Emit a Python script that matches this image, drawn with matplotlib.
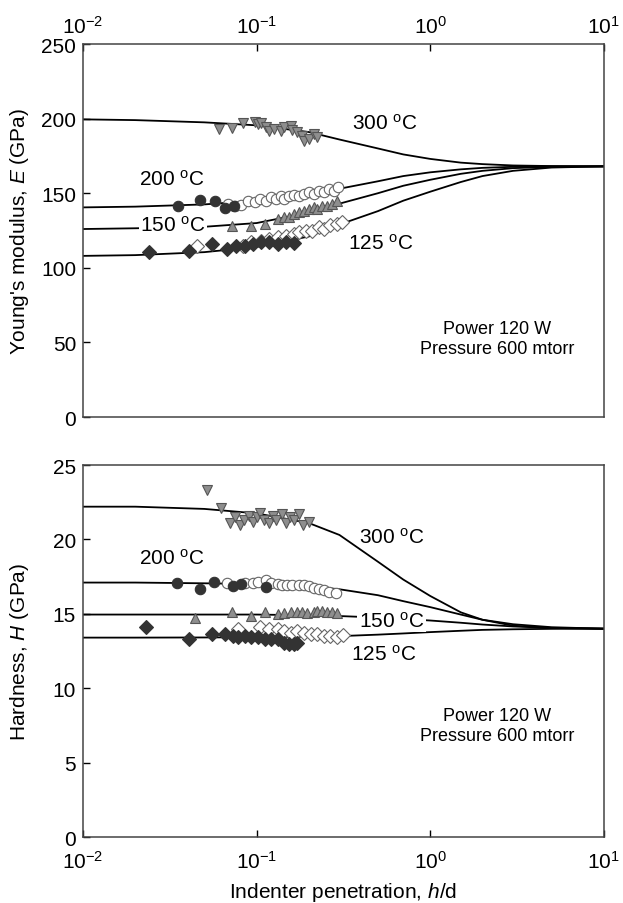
import matplotlib
matplotlib.use("Agg")
import matplotlib.pyplot as plt
import numpy as np

plt.rcParams["font.family"] = ["Liberation Sans", "DejaVu Sans"]
plt.rcParams["mathtext.fontset"] = "custom"
plt.rcParams["mathtext.rm"] = "Liberation Sans"
plt.rcParams["mathtext.it"] = "Liberation Sans:italic"

# ---- Young's modulus (top) ----
# fitted curves
x_fit = [0.01, 0.02, 0.05, 0.1, 0.2, 0.3, 0.5, 0.7, 1, 1.5, 2, 3, 5, 10]
E_fit_300 = [199.5, 199, 197.5, 195.5, 191, 186, 180, 176, 173, 170.5, 169.5, 168.6, 168.2, 168]
E_fit_200 = [140.5, 141, 142.5, 145, 149.5, 153, 158, 161.5, 164, 166, 167, 167.7, 168, 168]
E_fit_150 = [126, 126.5, 127.5, 130, 137, 143, 150, 155, 159, 163, 165, 166.8, 167.7, 168]
E_fit_125 = [108, 108.5, 110.5, 114, 121, 129, 138, 145, 151, 157.5, 161.5, 165, 167.2, 168]

E300_x = [0.0608, 0.0717, 0.0836, 0.0974, 0.1017, 0.1062, 0.1134, 0.1186, 0.1266, 0.138,
          0.1443, 0.1574, 0.161, 0.1718, 0.1834, 0.1876, 0.2003, 0.2138, 0.2233]
E300_y = [193.0, 193.5, 197.1, 197.9, 196.4, 197.0, 194.1, 191.9, 193.0, 191.9,
          194.1, 195.2, 192.5, 190.7, 188.5, 185.2, 186.3, 189.7, 187.7]

E200f_x = [0.0354, 0.0474, 0.0577, 0.066, 0.0738]
E200f_y = [141.1, 145.3, 144.9, 140.0, 141.3]
E200o_x = [0.0687, 0.075, 0.0817, 0.0892, 0.0974, 0.104, 0.1134, 0.1211, 0.1293, 0.138, 0.1443,
           0.1541, 0.1646, 0.1757, 0.1876, 0.2003, 0.2138, 0.2284, 0.2438, 0.2603, 0.278, 0.293]
E200o_y = [142.8, 141.6, 142.1, 145.0, 143.9, 146.1, 144.9, 147.2, 146.1, 148.3, 146.1,
           147.9, 148.8, 148.3, 149.5, 150.6, 149.5, 151.7, 150.6, 152.8, 151.7, 154.0]

E150_x = [0.0717, 0.0931, 0.1111, 0.1321, 0.1443, 0.1541, 0.1646, 0.1757, 0.1876, 0.2003,
          0.2138, 0.2233, 0.2385, 0.2546, 0.2718, 0.2902]
E150_y = [128.2, 128.2, 129.4, 132.7, 133.8, 133.8, 136.1, 137.2, 138.3, 139.4,
          140.5, 139.4, 141.6, 141.6, 142.8, 145.0]

E125f_x = [0.0241, 0.0406, 0.0551, 0.0671, 0.0765, 0.0855, 0.0953, 0.1062, 0.1186, 0.1321, 0.1474, 0.1646]
E125f_y = [110.4, 111.5, 115.9, 112.6, 114.8, 114.8, 115.9, 117.1, 117.1, 115.9, 117.1, 116.6]
E125o_x = [0.0453, 0.0836, 0.0931, 0.1062, 0.1186, 0.1321, 0.1474, 0.1646, 0.1757, 0.1916,
           0.2092, 0.2284, 0.2438, 0.2658, 0.29, 0.31]
E125o_y = [114.8, 114.8, 117.1, 118.2, 119.3, 120.4, 121.5, 122.7, 123.8, 124.9,
           124.9, 127.1, 126.0, 128.7, 129.4, 130.9]

# ---- Hardness (bottom) ----
H_fit_300 = [22.2, 22.2, 22.05, 21.75, 21.1, 20.3, 18.5, 17.3, 16.2, 15.1, 14.6, 14.2, 14.05, 14.0]
H_fit_200 = [17.1, 17.1, 17.05, 17.0, 16.85, 16.65, 16.25, 15.85, 15.45, 14.95, 14.6, 14.3, 14.1, 14.0]
H_fit_150 = [14.95, 14.95, 14.95, 14.95, 14.9, 14.85, 14.75, 14.65, 14.55, 14.4, 14.28, 14.15, 14.05, 14.0]
H_fit_125 = [13.4, 13.4, 13.41, 13.43, 13.47, 13.5, 13.6, 13.68, 13.77, 13.86, 13.92, 13.96, 13.99, 14.0]

H300_x = [0.052, 0.062, 0.07, 0.075, 0.08, 0.085, 0.09, 0.095, 0.1, 0.105, 0.11,
          0.118, 0.125, 0.13, 0.14, 0.148, 0.155, 0.165, 0.175, 0.185, 0.2]
H300_y = [23.3, 22.1, 21.1, 21.5, 21.0, 21.3, 21.6, 21.2, 21.5, 21.8, 21.3,
          21.1, 21.6, 21.3, 21.7, 21.1, 21.5, 21.3, 21.7, 21.0, 21.2]

H200f_x = [0.035, 0.0474, 0.0572, 0.0733, 0.0817, 0.1134]
H200f_y = [17.1, 16.7, 17.14, 16.87, 16.99, 16.83]
H200o_x = [0.0671, 0.0855, 0.0953, 0.1017, 0.1134, 0.1211, 0.1321, 0.1407, 0.1502, 0.161,
           0.1757, 0.1876, 0.2003, 0.2138, 0.2284, 0.2438, 0.2603, 0.2856]
H200o_y = [17.05, 17.1, 17.1, 17.14, 17.28, 17.05, 16.99, 16.92, 16.92, 16.92,
           16.92, 16.92, 16.87, 16.76, 16.7, 16.61, 16.47, 16.43]

H150_x = [0.0444, 0.0717, 0.0931, 0.1111, 0.1321, 0.1443, 0.1574, 0.1718, 0.1834, 0.1958,
          0.2138, 0.2233, 0.2385, 0.2546, 0.2718, 0.2902]
H150_y = [14.7, 15.09, 14.82, 15.09, 14.97, 15.04, 15.09, 15.13, 15.09, 15.04,
          15.09, 15.2, 15.2, 15.13, 15.09, 15.04]

H125f_x = [0.0231, 0.0406, 0.0551, 0.0657, 0.0733, 0.0781, 0.0855, 0.0931, 0.1017, 0.1111,
           0.1211, 0.1321, 0.1443, 0.1541, 0.1646, 0.1718]
H125f_y = [14.08, 13.3, 13.63, 13.63, 13.52, 13.41, 13.52, 13.41, 13.41, 13.3,
           13.3, 13.3, 13.07, 12.96, 12.96, 13.03]
H125o_x = [0.0781, 0.104, 0.1186, 0.1321, 0.1443, 0.1574, 0.1718, 0.1876, 0.2049, 0.2233,
           0.2438, 0.2658, 0.29, 0.3166]
H125o_y = [13.97, 14.08, 13.97, 13.97, 13.85, 13.74, 13.85, 13.74, 13.63, 13.63,
           13.52, 13.52, 13.41, 13.56]

gray = "#8e8e8e"
dark = "#333333"
ms = 7.5


def marks(ax, x, y, m, fc, ec):
    ax.plot(x, y, ls="none", marker=m, ms=ms, mfc=fc, mec=ec, mew=0.8, zorder=3)


def label(ax, x, y, s, box=False):
    kw = dict(fontsize=15, ha="center", va="center", zorder=4)
    if box:
        kw["bbox"] = dict(fc="white", ec="none", pad=1.0)
    ax.text(x, y, s, **kw)


fig = plt.figure(figsize=(6.23, 9.04), dpi=100)
ax1 = fig.add_axes([0.1332, 0.5376, 0.836, 0.4126])
ax2 = fig.add_axes([0.1332, 0.0730, 0.836, 0.4115])

deg = "$^{\\rm o}$C"

# top
for yy in (E_fit_300, E_fit_200, E_fit_150, E_fit_125):
    ax1.plot(x_fit, yy, color="black", lw=1.3, zorder=2)
marks(ax1, E300_x, E300_y, "v", gray, "#555555")
marks(ax1, E200o_x, E200o_y, "o", "white", "#666666")
marks(ax1, E200f_x, E200f_y, "o", dark, dark)
marks(ax1, E150_x, E150_y, "^", gray, "#555555")
marks(ax1, E125o_x, E125o_y, "D", "white", "#666666")
marks(ax1, E125f_x, E125f_y, "D", dark, dark)
label(ax1, 0.55, 197, "300 " + deg)
label(ax1, 0.0325, 160, "200 " + deg)
label(ax1, 0.033, 129, "150 " + deg, box=True)
label(ax1, 0.52, 117, "125 " + deg)
ax1.text(0.795, 0.21, "Power 120 W\nPressure 600 mtorr", transform=ax1.transAxes,
         fontsize=13, ha="center", va="center", linespacing=1.25)
ax1.set_ylim(0, 250)
ax1.set_yticks([0, 50, 100, 150, 200, 250])
ax1.set_ylabel("Young's modulus, $\\it{E}$ (GPa)", fontsize=15)
ax1.xaxis.set_ticks_position("top")
ax1.xaxis.set_label_position("top")

# bottom
for yy in (H_fit_300, H_fit_200, H_fit_150, H_fit_125):
    ax2.plot(x_fit, yy, color="black", lw=1.3, zorder=2)
marks(ax2, H300_x, H300_y, "v", gray, "#555555")
marks(ax2, H200o_x, H200o_y, "o", "white", "#666666")
marks(ax2, H200f_x, H200f_y, "o", dark, dark)
marks(ax2, H150_x, H150_y, "^", gray, "#555555")
marks(ax2, H125o_x, H125o_y, "D", "white", "#666666")
marks(ax2, H125f_x, H125f_y, "D", dark, dark)
label(ax2, 0.6, 20.2, "300 " + deg)
label(ax2, 0.0325, 18.8, "200 " + deg)
label(ax2, 0.6, 14.55, "150 " + deg, box=True)
label(ax2, 0.54, 12.3, "125 " + deg)
ax2.text(0.795, 0.30, "Power 120 W\nPressure 600 mtorr", transform=ax2.transAxes,
         fontsize=13, ha="center", va="center", linespacing=1.25)
ax2.set_ylim(0, 25)
ax2.set_yticks([0, 5, 10, 15, 20, 25])
ax2.set_ylabel("Hardness, $\\it{H}$ (GPa)", fontsize=15)
ax2.set_xlabel("Indenter penetration, $\\it{h}$/d", fontsize=15, labelpad=6)

for ax in (ax1, ax2):
    ax.set_xscale("log")
    ax.set_xlim(0.01, 10)
    ax.set_xticks([0.01, 0.1, 1, 10])
    ax.xaxis.set_minor_locator(matplotlib.ticker.NullLocator())
    ax.tick_params(direction="in", length=5, labelsize=15, width=1, pad=5)
    ax.yaxis.set_label_coords(-0.1, 0.5)
    for s in ax.spines.values():
        s.set_linewidth(1.1)
        s.set_color("#444444")
ax2.tick_params(axis="x", pad=9)

fig.savefig("out.png", dpi=100)
